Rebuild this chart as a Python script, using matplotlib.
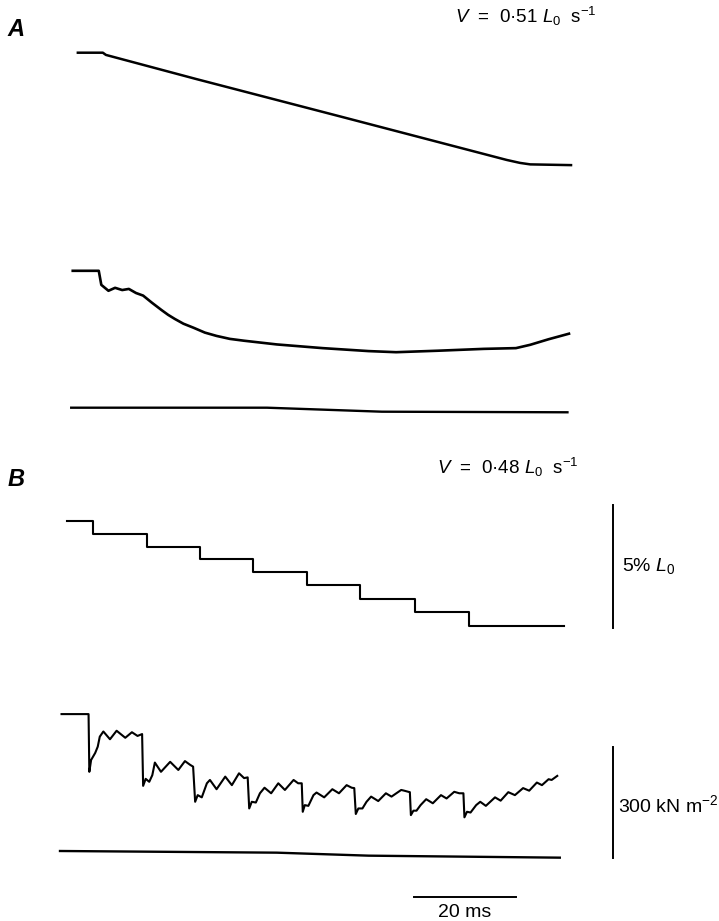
# Length and force records during ramp (A) and staircase (B) shortening
import numpy as np
import matplotlib.pyplot as plt

plt.rcParams['font.family'] = ['Liberation Sans', 'DejaVu Sans']
plt.rcParams['mathtext.fontset'] = 'custom'
plt.rcParams['mathtext.rm'] = 'Liberation Sans'
plt.rcParams['mathtext.it'] = 'Liberation Sans:italic'

# --- panel A: ramp shortening (time in ms, length in % L0, force in kN m-2)
lenA_t = [3.5, 8.4, 9.0, 26.7, 55.1, 87.6, 90.2, 92.2, 100.2]
lenA_v = [0, 0, -0.09, -1.07, -2.6, -4.36, -4.48, -4.54, -4.57]

forceA_t = [2.5, 7.6, 8.1, 9.5, 10.8, 12.2, 13.5, 14.9, 16.3, 18.0, 19.9, 21.2, 22.5, 24.2, 26.2,
            28.4, 30.7, 33.3, 36.1, 42.5, 51.5, 60.5, 65.9, 74.1, 83.1, 89.4, 92.2, 95.8, 99.8]
forceA_v = [370, 370, 332, 316, 324, 318, 321, 310, 303, 284, 264, 251, 240, 227, 216,
            203, 194, 186, 181, 171, 161, 153, 150, 154, 159, 161, 170, 185, 200]

baseA_t = [2.2, 40.6, 63.1, 99.5]
baseA_v = [0, 0, -10.8, -12.4]

# --- panel B: staircase shortening
lenB_t = [1.4, 6.5, 17.1, 27.4, 37.9, 48.5, 58.9, 69.6, 80.1, 98.9]
lenB_v = [0, -0.54, -1.06, -1.56, -2.07, -2.62, -3.17, -3.71, -4.27, -4.27]

forceB_t = [0.3, 5.6, 5.75, 6.1, 6.9, 7.4, 7.8, 8.5, 9.8, 11.1, 12.8, 14.1, 15.2, 16.1,
            16.3, 16.8, 17.5, 18.1, 18.6, 19.8, 21.6, 23.2, 24.5, 25.5, 26.1,
            26.5, 27.0, 27.8, 28.8, 29.4, 30.7, 32.4, 33.7, 35.1, 36.1, 36.8,
            37.1, 37.6, 38.4, 39.2, 40.1, 41.4, 42.8, 44.1, 45.8, 46.7, 47.4,
            47.6, 48.0, 48.7, 49.7, 50.3, 51.8, 53.4, 54.7, 56.2, 57.2, 57.7,
            58.0, 58.5, 59.3, 60.1, 61.0, 62.4, 63.9, 65.0, 66.9, 67.5, 68.3, 68.6,
            68.8, 69.3, 69.9, 70.7, 71.8, 73.1, 74.7, 75.8, 77.3, 78.3, 79.1,
            79.3, 79.8, 80.5, 81.6, 82.4, 83.5, 85.3, 86.4, 87.9, 89.2, 90.8,
            92.0, 93.5, 94.5, 95.8, 96.4, 97.5]
forceB_v = [370, 370, 214, 246, 265, 282, 309, 323, 302, 325, 306, 321, 311, 316,
            176, 195, 187, 205, 239, 214, 241, 219, 243, 233, 228,
            133, 151, 145, 183, 192, 167, 201, 178, 210, 197, 199,
            115, 133, 131, 156, 171, 156, 183, 165, 192, 183, 183,
            106, 124, 122, 151, 158, 145, 167, 156, 178, 171, 170,
            100, 115, 115, 133, 147, 135, 156, 147, 165, 163, 160, 159,
            97, 109, 109, 124, 140, 129, 151, 142, 160, 156, 156,
            91, 106, 104, 124, 133, 122, 145, 136, 159, 151, 170,
            163, 185, 178, 194, 192, 203]

baseB_t = [0, 42.5, 60.5, 98.0]
baseB_v = [0, -4.5, -12.6, -18]

# calibration bars
len_bar = 5      # % L0
force_bar = 300  # kN m-2
time_bar = 20    # ms

# layout (figure pixels)
W, H = 719, 921
X0 = 60.0
PX_MS = 5.1
PX_PCT = 24.6
PX_KN = 0.37
lenA_y0, forceA_y0 = 52.7, 407.7
lenB_y0, forceB_y0 = 520.7, 851.0

fig = plt.figure(figsize=(W / 100, H / 100), dpi=100)
ax = fig.add_axes([0, 0, 1, 1])
ax.set_xlim(-X0 / PX_MS, (W - X0) / PX_MS)
ax.set_ylim(H, 0)
ax.axis('off')


def trace(t, v, y0, scale, lw=1.6, **kw):
    ax.plot(t, y0 - np.asarray(v) * scale, color='black', lw=lw,
            solid_joinstyle='round', **kw)


trace(lenA_t, lenA_v, lenA_y0, PX_PCT, lw=1.8)
trace(forceA_t, forceA_v, forceA_y0, PX_KN, lw=1.9)
trace(baseA_t, baseA_v, forceA_y0, PX_KN, lw=1.7)

trace(lenB_t, lenB_v, lenB_y0, PX_PCT, lw=1.5, drawstyle='steps-post')
trace(forceB_t, forceB_v, forceB_y0, PX_KN, lw=1.5)
trace(baseB_t, baseB_v, forceB_y0, PX_KN, lw=1.7)

# scale bars
bar_t = (613 - X0) / PX_MS
ax.plot([bar_t, bar_t], [505, 505 + len_bar * PX_PCT], color='black', lw=1.4)
ax.plot([bar_t, bar_t], [747, 747 + force_bar * PX_KN], color='black', lw=1.4)
t_start = (414 - X0) / PX_MS
ax.plot([t_start, t_start + time_bar], [897, 897], color='black', lw=1.4)

# labels
ax.text((16 - X0) / PX_MS, 30, 'A', fontsize=17, style='italic', weight='bold',
        ha='center', va='center')
ax.text((16 - X0) / PX_MS, 479, 'B', fontsize=17, style='italic', weight='bold',
        ha='center', va='center')
ax.text((455 - X0) / PX_MS, 16, r'$V$  =  0·51 $L_0$  s$^{-1}$', fontsize=13.5,
        ha='left', va='center')
ax.text((437 - X0) / PX_MS, 467, r'$V$  =  0·48 $L_0$  s$^{-1}$', fontsize=13.5,
        ha='left', va='center')
ax.text((622 - X0) / PX_MS, 566, r'5% $L_0$', fontsize=14, ha='left', va='center')
ax.text((618 - X0) / PX_MS, 805, r'300 kN m$^{-2}$', fontsize=14, ha='left', va='center')
ax.text(t_start + time_bar / 2, 912, '20 ms', fontsize=14, ha='center', va='center')

fig.savefig('out.png', dpi=100)
